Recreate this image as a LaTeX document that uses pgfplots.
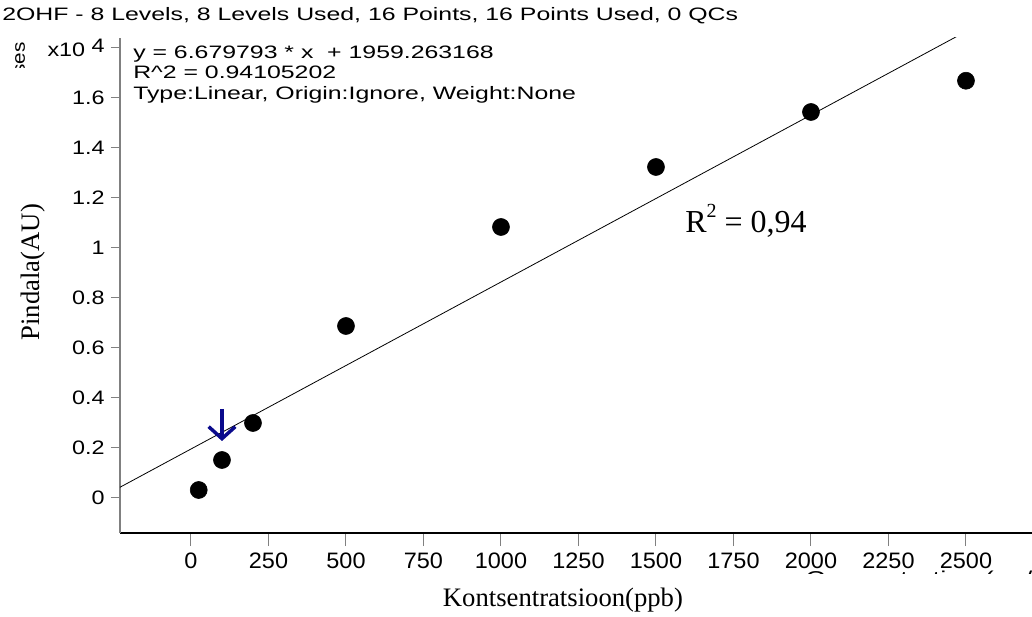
\documentclass[border=0pt]{standalone}
\usepackage{fontspec}
\setmainfont{Liberation Serif}
\newfontfamily\arial{Liberation Sans}
\newfontfamily\arialW[FakeStretch=1.38]{Liberation Sans}
\newfontfamily\arialS[FakeStretch=1.15]{Liberation Sans}
\newfontfamily\arialY[FakeStretch=1.2]{Liberation Sans}
\newfontfamily\arialX[FakeStretch=1.05]{Liberation Sans}
\usepackage{pgfplots}
\pgfplotsset{compat=1.18}
\usetikzlibrary{arrows.meta}
\definecolor{axgray}{RGB}{128,128,128}
\definecolor{arrowblue}{RGB}{10,10,140}

\pgfplotstableread{
x y
25 320
100 1520
200 3000
500 6880
1000 10840
1500 13240
2000 15440
2500 16690
}\calib

\begin{document}
\begin{tikzpicture}
\useasboundingbox (-90pt,-63pt) rectangle (684pt,399.75pt);
\begin{axis}[
  at={(0,0)}, anchor=south west,
  scale only axis, width=684pt, height=371.25pt,
  xmin=-229, xmax=2713, ymin=-1400, ymax=18400,
  scaled x ticks=false, scaled y ticks=false,
  axis x line=bottom, axis y line=left,
  x axis line style={black, line width=1pt, -},
  y axis line style={axgray, line width=1.5pt, -},
  tick align=outside,
  xtick={0,250,...,2500},
  xticklabels={0,250,500,750,1000,1250,1500,1750,2000,2250,2500},
  ytick={0,2000,4000,6000,8000,10000,12000,14000,16000,18000},
  yticklabels={0,0.2,0.4,0.6,0.8,1,1.2,1.4,1.6,{x10\ \raisebox{0.45ex}{4}}},
  minor tick num=0,
  xtick style={axgray, line width=0.75pt, /pgfplots/major tick length=9.75pt},
  ytick style={axgray, line width=0.75pt, /pgfplots/major tick length=6.75pt},
  xticklabel style={font=\arialX\fontsize{16.75}{18}\selectfont, inner sep=0pt, yshift=-10.75pt},
  yticklabel style={font=\arialY\fontsize{14.6}{16}\selectfont, inner sep=0pt, xshift=-7pt},
  xlabel={Kontsentratsioon(ppb)},
  ylabel={Pindala(AU)},
  xlabel style={at={(axis description cs:0.4857,-0.1354)}, anchor=center, font=\fontsize{20}{22}\selectfont},
  ylabel style={at={(axis description cs:-0.0954,0.527)}, anchor=center, rotate=0, font=\fontsize{20}{22}\selectfont},
  clip=true,
]
\addplot[black, line width=0.6pt, no marks] coordinates {(-229,430) (2470,18459)};
\addplot[only marks, mark=*, mark size=6.4pt, black, mark options={fill=black}] table {\calib};
\draw[arrowblue, line width=3pt, -{Straight Barb[length=9pt,width=20pt,line width=2.6pt]}]
  (axis cs:100,3560) -- (axis cs:100,2280);
\end{axis}

\node[anchor=base west, inner sep=0pt, font=\arialW\fontsize{13.5}{15}\selectfont] at (-88.5pt,384.2pt)
  {2OHF - 8 Levels, 8 Levels Used, 16 Points, 16 Points Used, 0 QCs};
\node[anchor=base west, inner sep=0pt, font=\arialW\fontsize{13.5}{15}\selectfont] at (9.75pt,356pt)
  {y = 6.679793 * x\ \ + 1959.263168};
\node[anchor=base west, inner sep=0pt, font=\arialW\fontsize{13.5}{15}\selectfont] at (9.75pt,341pt)
  {R\textasciicircum2 = 0.94105202};
\node[anchor=base west, inner sep=0pt, font=\arialW\fontsize{13.5}{15}\selectfont] at (9.75pt,324.75pt)
  {Type:Linear, Origin:Ignore, Weight:None};
\node[anchor=base west, inner sep=0pt, font=\fontsize{24}{26}\selectfont] at (423.75pt,225.5pt)
  {R\raisebox{0.46em}{\fontsize{15}{15}\selectfont 2} = 0,94};
\begin{scope}
  \clip (-90pt,348.75pt) rectangle (-60pt,399.75pt);
  \node[rotate=90, anchor=base east, inner sep=0pt, font=\arialS\fontsize{13.5}{15}\selectfont] at (-71.25pt,368.25pt) {Responses};
\end{scope}
\begin{scope}
  \clip (510pt,-28.1pt) rectangle (684pt,-30.75pt);
  \node[anchor=north west, inner sep=0pt, font=\arialW\fontsize{15}{17}\selectfont] at (513.75pt,-28.5pt) {Concentration (ng/ml)};
\end{scope}
\end{tikzpicture}
\end{document}
